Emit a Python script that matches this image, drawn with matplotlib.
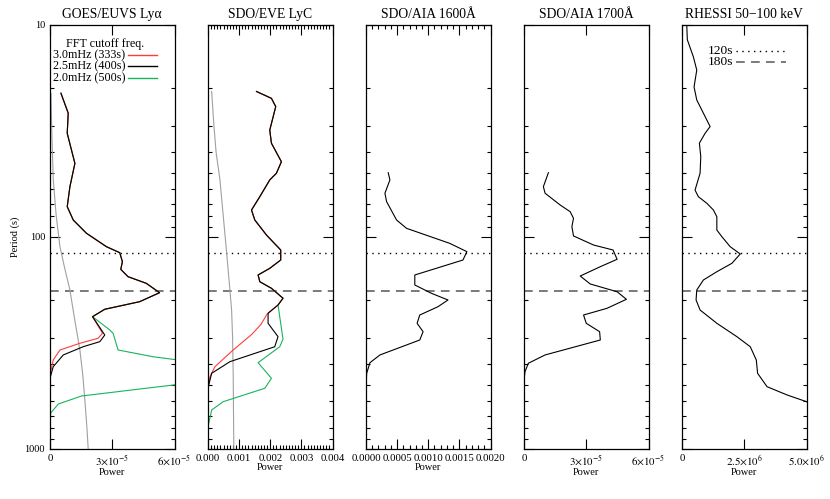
import numpy as np
import matplotlib
matplotlib.use("Agg")
import matplotlib.pyplot as plt
from matplotlib.ticker import FixedLocator, NullFormatter, MultipleLocator, LogLocator
from matplotlib.lines import Line2D

plt.rcParams['font.family'] = ['Liberation Serif', 'DejaVu Serif']
plt.rcParams['mathtext.fontset'] = 'stix'

# ---------------- data ----------------
titles = ["GOES/EUVS Ly\u03b1", "SDO/EVE LyC", "SDO/AIA 1600\u00c5", "SDO/AIA 1700\u00c5", "RHESSI 50\u2212100 keV"]

# Panel 1: GOES/EUVS Ly-alpha
p1_common_per = [21.1, 26.2, 32.6, 45.2, 58.2, 72.3, 83.6, 96.6, 111.7, 119.2, 131.5, 142.8, 154.7, 166.3, 184.1, 203.0, 220.4, 238.9]
p1_common_pow = [5.28e-6, 8.78e-6, 8.30e-6, 1.20e-5, 9.6e-6, 8.3e-6, 1.12e-5, 1.76e-5, 2.72e-5, 3.36e-5, 3.49e-5, 3.41e-5, 3.76e-5, 4.64e-5, 5.28e-5, 4.32e-5, 2.64e-5, 2.05e-5]
p1_black_per = [291.5, 313.4, 331.0, 362.0, 411.0, 465.0, 1000.0]
p1_black_pow = [2.64e-5, 2.40e-5, 1.60e-5, 6.4e-6, 1.58e-6, 0.0, 0.0]
p1_red_per = [286.0, 302.0, 319.0, 343.0, 382.0, 434.0, 524.0, 1000.0]
p1_red_pow = [2.53e-5, 2.32e-5, 1.44e-5, 4.8e-6, 1.58e-6, 3.4e-7, 0.0, 0.0]
p1_green_per = [276.0, 286.0, 343.0, 369.0, 379.6, 435.6, 501.7, 565.4, 616.8, 680.0, 789.0, 1000.0]
p1_green_pow = [2.88e-5, 3.04e-5, 3.28e-5, 4.96e-5, 5.92e-5, 1.3e-4, 5.95e-5, 1.52e-5, 4.0e-6, 3.4e-7, 0.0, 0.0]
p1_gray_per = [21.1, 30.0, 40.0, 54.1, 80.0, 111.7, 140.0, 178.8, 250.0, 343.0, 450.0, 590.5, 800.0, 1000.0]
p1_gray_pow = [4.8e-7, 8.0e-7, 1.15e-6, 1.58e-6, 3.0e-6, 4.8e-6, 7.0e-6, 9.6e-6, 1.2e-5, 1.44e-5, 1.58e-5, 1.68e-5, 1.78e-5, 1.84e-5]

# Panel 2: SDO/EVE LyC
p2_common_per = [20.7, 22.3, 24.4, 31.5, 36.3, 44.4, 50.3, 54.1, 64.9, 75.0, 83.6, 98.4, 115.8, 129.1, 141.3, 151.9, 163.4, 175.5, 195.6, 210.4]
p2_common_pow = [1.558e-3, 2.038e-3, 2.176e-3, 1.984e-3, 2.038e-3, 2.358e-3, 2.198e-3, 1.984e-3, 1.664e-3, 1.398e-3, 1.504e-3, 1.878e-3, 2.336e-3, 2.336e-3, 1.984e-3, 1.610e-3, 1.664e-3, 2.038e-3, 2.41e-3, 2.25e-3]
p2_black_per = [230.2, 256.7, 296.9, 331.1, 389.5, 441.8, 511.0, 1000.0]
p2_black_pow = [1.93e-3, 1.93e-3, 2.25e-3, 2.144e-3, 7.04e-4, 1.18e-4, 1.0e-5, 0.0]
p2_red_per = [232.0, 260.0, 290.0, 343.0, 411.0, 458.5, 512.8, 1000.0]
p2_red_pow = [1.90e-3, 1.70e-3, 1.40e-3, 8.1e-4, 2.24e-4, 6.4e-5, 0.0, 0.0]
p2_green_per = [305.4, 331.1, 393.7, 466.6, 520.0, 601.4, 658.0, 789.0, 1000.0]
p2_green_pow = [2.41e-3, 2.304e-3, 1.61e-3, 2.038e-3, 1.824e-3, 4.9e-4, 1.18e-4, 0.0, 0.0]
p2_gray_per = [20.7, 30.0, 40.0, 54.1, 80.0, 120.0, 178.8, 222.0, 300.0, 450.0, 700.0, 1000.0]
p2_gray_pow = [1.18e-4, 1.9e-4, 2.6e-4, 3.84e-4, 4.9e-4, 6.0e-4, 7.04e-4, 7.58e-4, 7.9e-4, 8.1e-4, 8.2e-4, 8.3e-4]

# Panel 3: SDO/AIA 1600
p3_per = [50.0, 54.1, 62.5, 68.5, 83.6, 91.5, 107.7, 117.9, 129.1, 151.9, 169.3, 185.3, 199.3, 214.3, 234.6, 256.7, 281.2, 307.7, 362.0, 393.7, 441.8, 511.0, 1000.0]
p3_pow = [3.57e-4, 3.84e-4, 3.04e-4, 3.31e-4, 4.91e-4, 6.51e-4, 1.344e-3, 1.621e-3, 1.557e-3, 7.84e-4, 7.84e-4, 1.051e-3, 1.317e-3, 1.157e-3, 8.64e-4, 8.21e-4, 9.17e-4, 8.64e-4, 2.24e-4, 6.4e-5, 1.1e-5, 0.0, 0.0]

# Panel 4: SDO/AIA 1700
p4_per = [50.0, 58.2, 62.5, 71.0, 76.4, 82.1, 89.9, 99.4, 109.7, 115.8, 128.1, 138.8, 153.6, 167.5, 182.2, 197.8, 218.1, 234.6, 256.7, 281.2, 307.7, 362.0, 396.3, 434.2, 475.3, 1000.0]
p4_pow = [1.176e-5, 9.34e-6, 1.016e-5, 1.742e-5, 2.226e-5, 2.386e-5, 2.308e-5, 2.386e-5, 3.353e-5, 4.292e-5, 4.486e-5, 3.678e-5, 2.71e-5, 3.194e-5, 4.486e-5, 4.936e-5, 4.002e-5, 2.87e-5, 3.0e-5, 3.644e-5, 3.678e-5, 1.016e-5, 2.08e-6, 4.8e-7, 0.0, 0.0]

# Panel 5: RHESSI 50-100 keV
p5_per = [10.0, 11.8, 14.2, 16.4, 19.7, 22.7, 26.2, 30.3, 32.6, 36.3, 42.0, 50.3, 60.4, 64.9, 69.7, 75.0, 80.7, 93.2, 100.2, 111.7, 120.9, 133.8, 146.6, 160.4, 178.8, 199.3, 222.2, 256.7, 296.9, 331.1, 382.4, 441.8, 511.0, 559.2, 601.4, 818.0]
p5_pow = [1.9e5, 2.14e5, 4.56e5, 5.93e5, 4.84e5, 5.93e5, 8.59e5, 1.129e6, 9.27e5, 6.98e5, 7.54e5, 7.26e5, 5.24e5, 6.57e5, 9.96e5, 1.262e6, 1.399e6, 1.399e6, 1.601e6, 1.935e6, 2.339e6, 2.004e6, 1.399e6, 8.59e5, 5.93e5, 5.65e5, 7.26e5, 1.399e6, 2.206e6, 2.742e6, 2.984e6, 3.036e6, 3.415e6, 4.222e6, 5.0e6, 8.0e6]

legend_title = "FFT cutoff freq."
legend_labels = ["3.0mHz (333s)", "2.5mHz (400s)", "2.0mHz (500s)"]
mark_periods = [120, 180]
mark_labels = ["120s", "180s"]

y_ticks = [10, 100, 1000]
y_ticklabels = ['10', '100', '1000']
x1_ticks = [0, 3e-5, 6e-5]
x1_labels = ['0', r'$3{\times}10^{-5}$', r'$6{\times}10^{-5}$']
x2_ticks = [0.0, 0.001, 0.002, 0.003, 0.004]
x2_labels = ['0.000', '0.001', '0.002', '0.003', '0.004']
x3_ticks = [0.0, 0.0005, 0.0010, 0.0015, 0.0020]
x3_labels = ['0.0000', '0.0005', '0.0010', '0.0015', '0.0020']
x5_ticks = [0, 2.5e6, 5e6]
x5_labels = ['0', r'$2.5{\times}10^{6}$', r'$5.0{\times}10^{6}$']

RED = '#ff3c3c'
GREEN = '#19b35c'
GRAY = '#a0a0a0'
DASHGRAY = '#7a7a7a'
DOT = (0, (1, 3.2))
DASH = (0, (4.5, 3.2))

# ---------------- figure ----------------
fig = plt.figure(figsize=(8.30, 4.99), dpi=100)
W, H = 830.0, 499.0
lefts = [50, 208, 366, 524, 682]
width = 124.5
top_px, bot_px = 24.5, 448.5

axes = []
for i, lp in enumerate(lefts):
    ax = fig.add_axes([lp / W, 1 - bot_px / H, width / W, (bot_px - top_px) / H])
    axes.append(ax)

def combine(cp, cw, p, w):
    return list(cp) + list(p), list(cw) + list(w)

def ax_xy(i, xp, yp):
    """pixel position -> axes fraction for panel i"""
    return (xp - lefts[i]) / width, 1 - (yp - top_px) / (bot_px - top_px)

for i, ax in enumerate(axes):
    ax.set_yscale('log')
    ax.set_ylim(1000, 10)
    ax.yaxis.set_major_locator(FixedLocator(y_ticks))
    ax.yaxis.set_minor_locator(LogLocator(base=10, subs=np.arange(2, 10)))
    ax.yaxis.set_minor_formatter(NullFormatter())
    if i == 0:
        ax.set_yticklabels(y_ticklabels)
        ax.set_ylabel('Period (s)', fontsize=7.5, labelpad=3)
    else:
        ax.set_yticklabels([])
    ax.tick_params(axis='both', which='both', direction='in', top=True, right=True,
                   labelsize=7.8, pad=4, width=0.8, color='black')
    ax.tick_params(axis='both', which='major', length=7)
    ax.tick_params(axis='both', which='minor', length=3)
    ax.tick_params(axis='y', labelsize=7.5, pad=3.5)
    ax.set_title(titles[i], fontsize=9.8, pad=5)
    ax.set_xlabel('Power', fontsize=7.5, labelpad=0)
    for s in ax.spines.values():
        s.set_linewidth(0.9)
    ax.axhline(mark_periods[0], color='black', lw=1.0, ls=DOT)
    ax.axhline(mark_periods[1], color=DASHGRAY, lw=1.4, ls=DASH)

lw = 0.8
# panel 1
ax = axes[0]
ax.plot(p1_gray_pow, p1_gray_per, color=GRAY, lw=0.8)
x, y = combine(p1_common_pow, p1_common_per, p1_green_pow, p1_green_per)
ax.plot(x, y, color=GREEN, lw=lw)
x, y = combine(p1_common_pow, p1_common_per, p1_red_pow, p1_red_per)
ax.plot(x, y, color=RED, lw=lw)
x, y = combine(p1_common_pow, p1_common_per, p1_black_pow, p1_black_per)
ax.plot(x, y, color='black', lw=lw)
ax.set_xlim(0, 6e-5)
ax.xaxis.set_major_locator(FixedLocator(x1_ticks))
ax.set_xticklabels(x1_labels)
# manual legend (FFT cutoff)
tx, ty = ax_xy(0, 105, 43.7)
ax.text(tx, ty, legend_title, transform=ax.transAxes, ha='center', va='center', fontsize=8.7)
for lab, col, yp in zip(legend_labels, [RED, 'black', GREEN], [55.3, 66.3, 78.3]):
    tx, ty = ax_xy(0, 52.7, yp)
    ax.text(tx, ty, lab, transform=ax.transAxes, ha='left', va='center', fontsize=8.7)
    x0, _ = ax_xy(0, 128, yp)
    x1, _ = ax_xy(0, 157, yp)
    ax.add_line(Line2D([x0, x1], [ty, ty], transform=ax.transAxes, color=col, lw=1.0))

# panel 2
ax = axes[1]
ax.plot(p2_gray_pow, p2_gray_per, color=GRAY, lw=0.8)
x, y = combine(p2_common_pow, p2_common_per, p2_green_pow, p2_green_per)
ax.plot(x, y, color=GREEN, lw=lw)
x, y = combine(p2_common_pow, p2_common_per, p2_red_pow, p2_red_per)
ax.plot(x, y, color=RED, lw=lw)
x, y = combine(p2_common_pow, p2_common_per, p2_black_pow, p2_black_per)
ax.plot(x, y, color='black', lw=lw)
ax.set_xlim(0, 0.004)
ax.xaxis.set_major_locator(FixedLocator(x2_ticks))
ax.xaxis.set_minor_locator(MultipleLocator(0.0001))
ax.set_xticklabels(x2_labels)

# panel 3
ax = axes[2]
ax.plot(p3_pow, p3_per, color='black', lw=lw)
ax.set_xlim(0, 0.002)
ax.xaxis.set_major_locator(FixedLocator(x3_ticks))
ax.xaxis.set_minor_locator(MultipleLocator(0.0001))
ax.set_xticklabels(x3_labels)

# panel 4
ax = axes[3]
ax.plot(p4_pow, p4_per, color='black', lw=lw)
ax.set_xlim(0, 6e-5)
ax.xaxis.set_major_locator(FixedLocator(x1_ticks))
ax.set_xticklabels(x1_labels)

# panel 5
ax = axes[4]
ax.plot(p5_pow, p5_per, color='black', lw=lw)
ax.set_xlim(0, 5e6)
ax.xaxis.set_major_locator(FixedLocator(x5_ticks))
ax.set_xticklabels(x5_labels)
for lab, ls, col, lwi, yp in zip(mark_labels, [DOT, DASH], ['black', DASHGRAY], [1.0, 1.4], [50.7, 62.3]):
    tx, ty = ax_xy(4, 707.7, yp)
    ax.text(tx, ty, lab, transform=ax.transAxes, ha='left', va='center', fontsize=9.7)
    x0, _ = ax_xy(4, 736, yp)
    x1, _ = ax_xy(4, 786, yp)
    ax.add_line(Line2D([x0, x1], [ty, ty], transform=ax.transAxes, color=col, lw=lwi, ls=ls))

fig.savefig('out.png', dpi=100)
